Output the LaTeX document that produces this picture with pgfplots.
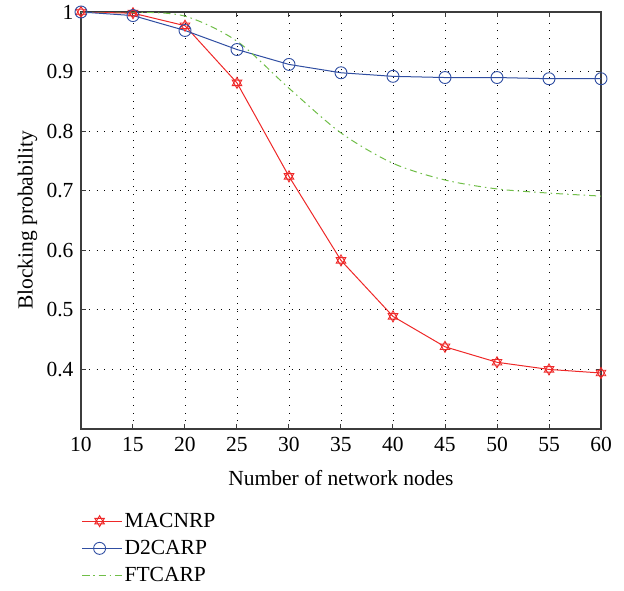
\documentclass[border=0pt]{standalone}
\usepackage{pgfplots}
\pgfplotsset{compat=1.18}
\usepackage{fontspec}
\setmainfont{Liberation Serif}
\definecolor{cred}{RGB}{238,40,40}
\definecolor{cblue}{RGB}{48,78,162}
\definecolor{cgreen}{RGB}{112,190,72}
\definecolor{caxis}{RGB}{60,60,60}
\pgfdeclareplotmark{hexagram}{%
  \pgfpathmoveto{\pgfqpointpolar{90}{\pgfplotmarksize}}%
  \pgfpathlineto{\pgfqpointpolar{210}{\pgfplotmarksize}}%
  \pgfpathlineto{\pgfqpointpolar{330}{\pgfplotmarksize}}%
  \pgfpathclose
  \pgfpathmoveto{\pgfqpointpolar{270}{\pgfplotmarksize}}%
  \pgfpathlineto{\pgfqpointpolar{30}{\pgfplotmarksize}}%
  \pgfpathlineto{\pgfqpointpolar{150}{\pgfplotmarksize}}%
  \pgfpathclose
  \pgfusepathqstroke}
\begin{document}
\begin{tikzpicture}
\begin{axis}[
  scale only axis, width=520pt, height=417pt,
  xmin=10, xmax=60, ymin=0.3, ymax=1,
  xtick={10,15,...,60},
  ytick={0.4,0.5,0.6,0.7,0.8,0.9,1},
  yticklabels={0.4,0.5,0.6,0.7,0.8,0.9,1},
  /pgf/number format/assume math mode=true,
  font=\fontsize{21.5}{25}\selectfont,
  tick label style={font=\fontsize{21.5}{25}\selectfont},
  yticklabel style={xshift=-4pt},
  xticklabel style={yshift=-5pt},
  tick align=inside, major tick length=5pt,
  tick style={caxis, line width=1pt},
  axis line style={caxis, line width=1.3pt},
  grid=major,
  major grid style={black, line width=0.8pt, dash pattern=on 0.8pt off 7pt},
  xlabel={Number of network nodes},
  ylabel={Blocking probability},
  xlabel style={at={(axis description cs:0.5,-0.1175)}, anchor=center},
  ylabel style={at={(axis description cs:-0.103,0.5)}, anchor=center},
  legend cell align=left,
  legend style={draw=none, fill=none, at={(axis description cs:-0.005,-0.192)}, anchor=north west,
    font=\fontsize{21.5}{25}\selectfont, row sep=7.5pt},
  legend image code/.code={\draw[mark repeat=2,mark phase=2] plot coordinates {(0pt,0pt)(17.5pt,0pt)(35pt,0pt)};\path (0pt,0pt) -- (40pt,0pt);},
]
\addplot[cred, line width=1pt, mark=hexagram, mark size=5.5pt, mark options={solid, line width=0.9pt}] coordinates {
(10,1.0)(15,0.998)(20,0.977)(25,0.881)(30,0.724)(35,0.583)(40,0.489)(45,0.438)(50,0.412)(55,0.400)(60,0.394)};
\addlegendentry{MACNRP}
\addplot[cblue, line width=1pt, mark=o, mark size=6pt, mark options={solid, line width=0.9pt}] coordinates {
(10,1.0)(15,0.994)(20,0.969)(25,0.937)(30,0.912)(35,0.898)(40,0.892)(45,0.890)(50,0.890)(55,0.888)(60,0.888)};
\addlegendentry{D2CARP}
\addplot[cgreen, line width=1pt, smooth, dash pattern=on 7pt off 4pt on 1.5pt off 4pt] coordinates {
(10,1.0)(15,1.0)(20,0.993)(25,0.951)(30,0.872)(35,0.797)(40,0.746)(45,0.718)(50,0.703)(55,0.696)(60,0.691)};
\addlegendentry{FTCARP}
\end{axis}
\path (current axis.south west) ++(-81pt,-162pt) rectangle ++(624pt,591pt);
\end{tikzpicture}
\end{document}
